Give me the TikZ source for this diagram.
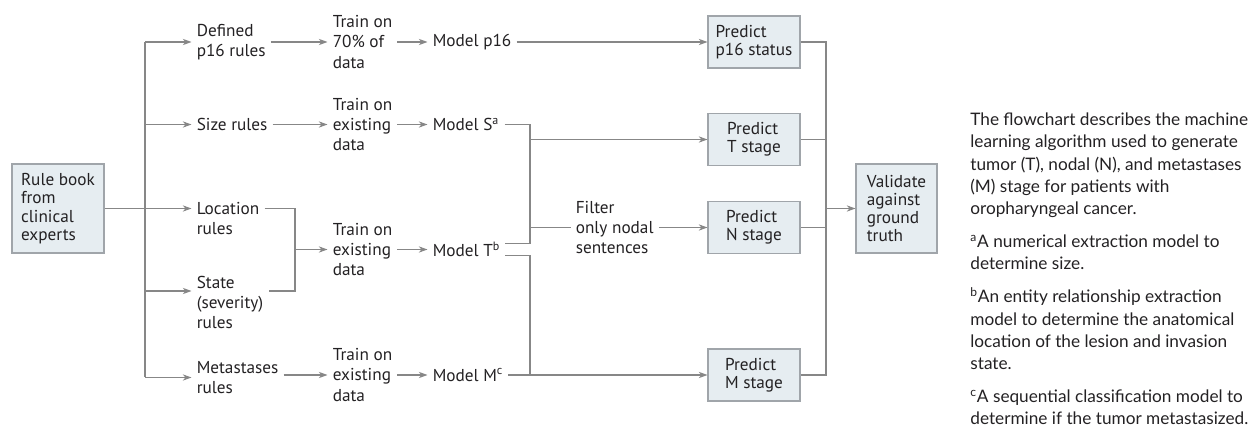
\documentclass[tikz,border=0pt]{standalone}
\usepackage{fontspec}
\setmainfont{Lato}
\newfontfamily\chartfont{PT Sans}
\usetikzlibrary{arrows.meta}
\definecolor{boxfill}{RGB}{230,237,241}
\definecolor{boxline}{RGB}{160,165,170}
\definecolor{wiregray}{RGB}{135,135,135}
\definecolor{ink}{RGB}{35,33,35}
\tikzset{
  lbl/.style={anchor=west, align=left, inner sep=0pt, outer xsep=3pt, text=ink,
    font=\chartfont\fontsize{9.8}{11.6}\selectfont},
  stepbox/.style={draw=boxline, fill=boxfill, line width=0.6pt, align=left, text=ink,
    inner sep=0pt, font=\chartfont\fontsize{9.8}{10.4}\selectfont},
  predbox/.style={stepbox, minimum width=1.84cm, minimum height=1.04cm},
  wire/.style={draw=wiregray, line width=0.6pt},
  flow/.style={wire, -{Stealth[length=5pt,width=3.6pt]}},
}
\begin{document}
\begin{tikzpicture}
        \useasboundingbox (0,0) rectangle (25.14,-8.64);
        \node[stepbox, minimum width=1.84cm, minimum height=1.78cm] (rulebook) at (1.16,-4.17) {Rule book\\from\\clinical\\experts};
        \node[lbl] (p16rules)   at (3.83,-0.84) {Defined\\p16 rules};
        \node[lbl] (sizerules)  at (3.83,-2.49) {Size rules};
        \node[lbl] (locrules)   at (3.83,-4.37) {Location\\rules};
        \node[lbl] (staterules) at (3.83,-6.05) {State\\(severity)\\rules};
        \node[lbl] (metrules)   at (3.83,-7.55) {Metastases\\rules};
        \node[lbl] (trainp16)   at (6.55,-0.84) {Train on\\70\% of\\data};
        \node[lbl] (trainsize)  at (6.55,-2.49) {Train on\\existing\\data};
        \node[lbl] (trainloc)   at (6.55,-4.99) {Train on\\existing\\data};
        \node[lbl] (trainmet)   at (6.55,-7.50) {Train on\\existing\\data};
        \node[lbl] (modelp16)   at (8.55,-0.84) {Model p16};
        \node[lbl] (models)     at (8.55,-2.49) {Model S\textsuperscript{a}};
        \node[lbl] (modelt)     at (8.55,-4.99) {Model T\textsuperscript{b}};
        \node[lbl] (modelm)     at (8.55,-7.50) {Model M\textsuperscript{c}};
        \node[lbl] (filter)     at (11.41,-4.55) {Filter\\only nodal\\sentences};
        \node[predbox] (predp16) at (15.08,-0.84) {Predict\\p16 status};
        \node[predbox] (predt)   at (15.08,-2.79) {Predict\\T stage};
        \node[predbox] (predn)   at (15.08,-4.55) {Predict\\N stage};
        \node[predbox] (predm)   at (15.08,-7.50) {Predict\\M stage};
        \node[stepbox, minimum width=1.62cm, minimum height=1.78cm] (validate) at (17.93,-4.17) {Validate\\against\\ground\\truth};
        \node[anchor=north west, align=left, inner sep=0pt, text=ink, font=\fontsize{9.8}{12.7}\selectfont] (notes) at (19.40,-2.25)
          {The flowchart describes the machine\\
           learning algorithm used to generate\\
           tumor (T), nodal (N), and metastases\\
           (M) stage for patients with\\
           oropharyngeal cancer.\\[6pt]
           \textsuperscript{a}A numerical extraction model to\\
           determine size.\\[6pt]
           \textsuperscript{b}An entity relationship extraction\\
           model to determine the anatomical\\
           location of the lesion and invasion\\
           state.\\[6pt]
           \textsuperscript{c}A sequential classification model to\\
           determine if the tumor metastasized.};
        \coordinate (trunk) at (2.90,0);
        \coordinate (rj) at (5.90,0);
        \coordinate (mj) at (10.60,0);
        \coordinate (cj) at (16.52,0);
        \coordinate (statein) at ([yshift=0.23cm]staterules.west);
        \coordinate (stateout) at (staterules.east |- statein);
        \coordinate (tup) at ([yshift=0.12cm]modelt.east);
        \coordinate (tdn) at ([yshift=-0.12cm]modelt.east);
        \draw[wire] (trunk |- p16rules) -- (trunk |- metrules);
        \draw[flow] (trunk |- p16rules) -- (p16rules);
        \draw[flow] (trunk |- sizerules) -- (sizerules);
        \draw[flow] (rulebook) -- (rulebook -| locrules.west);
        \draw[flow] (trunk |- statein) -- (statein);
        \draw[flow] (trunk |- metrules) -- (metrules);
        \draw[flow] (p16rules) -- (trainp16);
        \draw[flow] (sizerules) -- (trainsize);
        \draw[wire] (locrules.east |- rulebook) -| (rj |- statein) -- (stateout);
        \draw[flow] (rj |- trainloc) -- (trainloc);
        \draw[flow] (metrules.east |- trainmet) -- (trainmet);
        \draw[flow] (trainp16) -- (modelp16);
        \draw[flow] (trainsize) -- (models);
        \draw[flow] (trainloc) -- (modelt);
        \draw[flow] (trainmet) -- (modelm);
        \draw[flow] (modelp16) -- (predp16);
        \draw[wire] (models) -| (mj |- tup) -- (tup);
        \draw[flow] (mj |- predt) -- (predt);
        \draw[wire] (mj |- filter) -- (filter);
        \draw[flow] (filter) -- (predn);
        \draw[wire] (tdn) -| (mj |- modelm);
        \draw[flow] (modelm) -- (predm);
        \draw[wire] (predp16) -| (cj |- predm) -- (predm);
        \draw[wire] (predt) -- (predt -| cj);
        \draw[wire] (predn) -- (predn -| cj);
        \draw[flow] (cj |- validate) -- (validate);
    \end{tikzpicture}
\end{document}
